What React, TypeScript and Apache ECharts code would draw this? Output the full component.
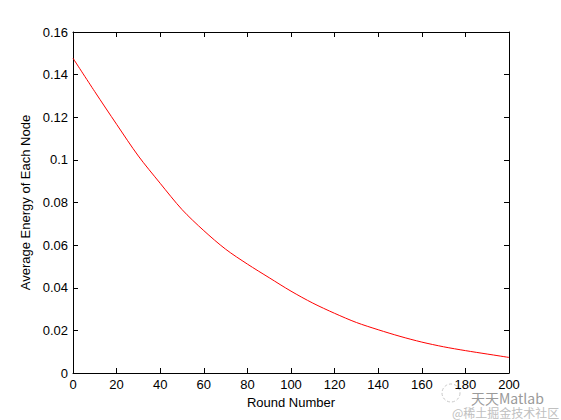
import React, { useEffect, useRef } from "react";
import * as echarts from "echarts";

const rounds = [0, 10, 20, 30, 40, 50, 60, 70, 80, 90, 100, 110, 120, 130, 140, 150, 160, 170, 180, 190, 200];
const energy = [0.1477, 0.132, 0.1167, 0.1018, 0.089, 0.0767, 0.0668, 0.0581, 0.0511, 0.0447, 0.0384, 0.0328, 0.028, 0.0237, 0.0203, 0.0172, 0.0145, 0.0123, 0.0105, 0.0089, 0.0073];
const xTicks = [0, 20, 40, 60, 80, 100, 120, 140, 160, 180, 200];
const yTicks = [0, 0.02, 0.04, 0.06, 0.08, 0.1, 0.12, 0.14, 0.16];

const FONT = "'Liberation Sans', Arial, sans-serif";

export default function App() {
  const ref = useRef<HTMLDivElement>(null);
  useEffect(() => {
    if (!ref.current) return;
    const chart = echarts.init(ref.current, null, { renderer: "svg" });
    const axisLine = { show: true, onZero: false, lineStyle: { color: "#000", width: 1 } };
    const tick = { show: true, inside: true, length: 5, lineStyle: { color: "#000" } };
    chart.setOption({
      animation: false,
      backgroundColor: "#fff",
      grid: { left: 73, right: 52, top: 32, bottom: 47, containLabel: false },
      xAxis: [
        {
          type: "value",
          min: xTicks[0],
          max: xTicks[xTicks.length - 1],
          interval: 20,
          name: "Round Number",
          nameLocation: "middle",
          nameGap: 23,
          nameTextStyle: { color: "#000", fontSize: 13, fontFamily: FONT },
          axisLine,
          axisTick: tick,
          splitLine: { show: false },
          axisLabel: { color: "#000", fontSize: 13, fontFamily: FONT, margin: 5, lineHeight: 13 },
        },
        {
          type: "value",
          position: "top",
          min: xTicks[0],
          max: xTicks[xTicks.length - 1],
          interval: 20,
          axisLine,
          axisTick: tick,
          splitLine: { show: false },
          axisLabel: { show: false },
        },
      ],
      yAxis: [
        {
          type: "value",
          min: yTicks[0],
          max: yTicks[yTicks.length - 1],
          interval: 0.02,
          name: "Average Energy of Each Node",
          nameLocation: "middle",
          nameGap: 35,
          nameTextStyle: { color: "#000", fontSize: 13, fontFamily: FONT },
          axisLine,
          axisTick: tick,
          splitLine: { show: false },
          axisLabel: {
            color: "#000",
            fontSize: 13,
            fontFamily: FONT,
            margin: 5,
            formatter: (v: number) => (v === 0 ? "0" : String(parseFloat(v.toFixed(2)))),
          },
        },
        {
          type: "value",
          position: "right",
          min: yTicks[0],
          max: yTicks[yTicks.length - 1],
          interval: 0.02,
          axisLine,
          axisTick: tick,
          splitLine: { show: false },
          axisLabel: { show: false },
        },
      ],
      series: [
        {
          type: "line",
          data: rounds.map((r, i) => [r, energy[i]]),
          showSymbol: false,
          smooth: 0.3,
          lineStyle: { color: "#ff0000", width: 1 },
          itemStyle: { color: "#ff0000" },
        },
      ],
      graphic: [
        {
          type: "circle",
          shape: { cx: 451, cy: 393, r: 9 },
          style: { fill: "none", stroke: "#c8c8c8", lineWidth: 1, lineDash: [3, 2] },
        },
        {
          type: "text",
          x: 471,
          y: 391,
          style: {
            text: "天天Matlab",
            fontSize: 14,
            lineHeight: 14,
            fontFamily: "'Noto Sans CJK SC', sans-serif",
            fill: "#9a9a9a",
            stroke: "#ffffff",
            lineWidth: 2,
          },
        },
        {
          type: "text",
          x: 452,
          y: 406,
          style: {
            text: "@稀土掘金技术社区",
            fontSize: 12,
            lineHeight: 12,
            fontFamily: "'Noto Sans CJK SC', sans-serif",
            fill: "#c0c0c0",
          },
        },
      ],
    });
    return () => chart.dispose();
  }, []);
  return (
    <div
      ref={ref}
      style={{ position: "absolute", left: 0, top: 0, width: 561, height: 420 }}
    />
  );
}
